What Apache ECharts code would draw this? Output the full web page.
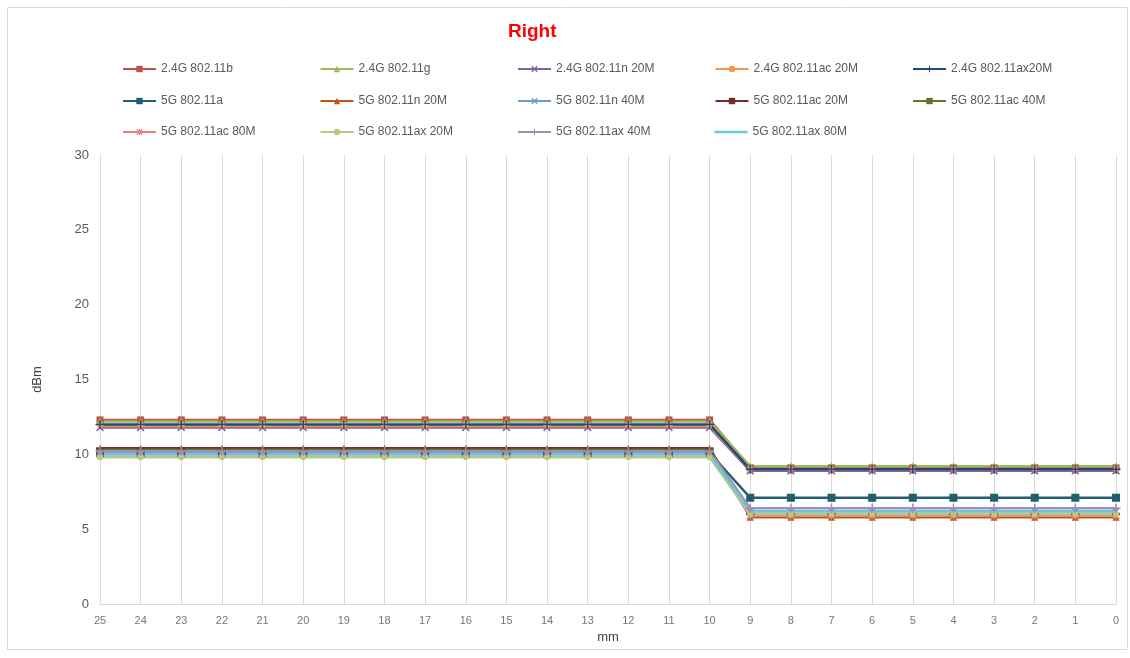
<!DOCTYPE html>
<html><head><meta charset="utf-8">
<script src="https://cdn.jsdelivr.net/npm/echarts@6/dist/echarts.min.js"></script>
<style>html,body{margin:0;padding:0;background:#fff}#c{width:1130px;height:658px}</style>
</head><body><div id="c"></div>
<script>
const categories = ['25','24','23','22','21','20','19','18','17','16','15','14','13','12','11','10','9','8','7','6','5','4','3','2','1','0'];
const yTicks = [0, 5, 10, 15, 20, 25, 30];
const seriesNames = ['2.4G 802.11b','2.4G 802.11g','2.4G 802.11n 20M','2.4G 802.11ac 20M','2.4G 802.11ax20M',
  '5G 802.11a','5G 802.11n 20M','5G 802.11n 40M','5G 802.11ac 20M','5G 802.11ac 40M',
  '5G 802.11ac 80M','5G 802.11ax 20M','5G 802.11ax 40M','5G 802.11ax 80M'];
const g24_11b   = [12.3,12.3,12.3,12.3,12.3,12.3,12.3,12.3,12.3,12.3,12.3,12.3,12.3,12.3,12.3,12.3,9.1,9.1,9.1,9.1,9.1,9.1,9.1,9.1,9.1,9.1];
const g24_11g   = [12.2,12.2,12.2,12.2,12.2,12.2,12.2,12.2,12.2,12.2,12.2,12.2,12.2,12.2,12.2,12.2,9.2,9.2,9.2,9.2,9.2,9.2,9.2,9.2,9.2,9.2];
const g24_11n20 = [11.8,11.8,11.8,11.8,11.8,11.8,11.8,11.8,11.8,11.8,11.8,11.8,11.8,11.8,11.8,11.8,8.9,8.9,8.9,8.9,8.9,8.9,8.9,8.9,8.9,8.9];
const g24_11ac20= [11.9,11.9,11.9,11.9,11.9,11.9,11.9,11.9,11.9,11.9,11.9,11.9,11.9,11.9,11.9,11.9,9.0,9.0,9.0,9.0,9.0,9.0,9.0,9.0,9.0,9.0];
const g24_ax20  = [12.0,12.0,12.0,12.0,12.0,12.0,12.0,12.0,12.0,12.0,12.0,12.0,12.0,12.0,12.0,12.0,9.0,9.0,9.0,9.0,9.0,9.0,9.0,9.0,9.0,9.0];
const g5_11a    = [10.1,10.1,10.1,10.1,10.1,10.1,10.1,10.1,10.1,10.1,10.1,10.1,10.1,10.1,10.1,10.1,7.1,7.1,7.1,7.1,7.1,7.1,7.1,7.1,7.1,7.1];
const g5_11n20  = [10.4,10.4,10.4,10.4,10.4,10.4,10.4,10.4,10.4,10.4,10.4,10.4,10.4,10.4,10.4,10.4,5.8,5.8,5.8,5.8,5.8,5.8,5.8,5.8,5.8,5.8];
const g5_11n40  = [10.1,10.1,10.1,10.1,10.1,10.1,10.1,10.1,10.1,10.1,10.1,10.1,10.1,10.1,10.1,10.1,6.2,6.2,6.2,6.2,6.2,6.2,6.2,6.2,6.2,6.2];
const g5_11ac20 = [10.4,10.4,10.4,10.4,10.4,10.4,10.4,10.4,10.4,10.4,10.4,10.4,10.4,10.4,10.4,10.4,6.0,6.0,6.0,6.0,6.0,6.0,6.0,6.0,6.0,6.0];
const g5_11ac40 = [10.3,10.3,10.3,10.3,10.3,10.3,10.3,10.3,10.3,10.3,10.3,10.3,10.3,10.3,10.3,10.3,6.0,6.0,6.0,6.0,6.0,6.0,6.0,6.0,6.0,6.0];
const g5_11ac80 = [10.0,10.0,10.0,10.0,10.0,10.0,10.0,10.0,10.0,10.0,10.0,10.0,10.0,10.0,10.0,10.0,5.9,5.9,5.9,5.9,5.9,5.9,5.9,5.9,5.9,5.9];
const g5_ax20   = [9.8,9.8,9.8,9.8,9.8,9.8,9.8,9.8,9.8,9.8,9.8,9.8,9.8,9.8,9.8,9.8,6.0,6.0,6.0,6.0,6.0,6.0,6.0,6.0,6.0,6.0];
const g5_ax40   = [10.2,10.2,10.2,10.2,10.2,10.2,10.2,10.2,10.2,10.2,10.2,10.2,10.2,10.2,10.2,10.2,6.4,6.4,6.4,6.4,6.4,6.4,6.4,6.4,6.4,6.4];
const g5_ax80   = [10.0,10.0,10.0,10.0,10.0,10.0,10.0,10.0,10.0,10.0,10.0,10.0,10.0,10.0,10.0,10.0,6.2,6.2,6.2,6.2,6.2,6.2,6.2,6.2,6.2,6.2];
const seriesValues = [g24_11b,g24_11g,g24_11n20,g24_11ac20,g24_ax20,g5_11a,g5_11n20,g5_11n40,g5_11ac20,g5_11ac40,g5_11ac80,g5_ax20,g5_ax40,g5_ax80];

const X = 'path://M0,1.5L1.5,0L5,3.5L8.5,0L10,1.5L6.5,5L10,8.5L8.5,10L5,6.5L1.5,10L0,8.5L3.5,5Z';
const PLUS = 'path://M4.2,0H5.8V4.2H10V5.8H5.8V10H4.2V5.8H0V4.2H4.2Z';
const STAR = 'path://M0,1.5L1.5,0L4.3,2.8V0H5.7V2.8L8.5,0L10,1.5L6.5,5L10,8.5L8.5,10L5.7,7.2V10H4.3V7.2L1.5,10L0,8.5L3.5,5Z';
const styles = [
  {c:'#C0504D', s:'rect', z:7},
  {c:'#9BBB59', s:'triangle', z:8},
  {c:'#8064A2', s:X, z:8},
  {c:'#F79646', s:'circle', z:5},
  {c:'#1F497D', s:PLUS, z:9},
  {c:'#215E6E', s:'rect', z:8},
  {c:'#C0590F', s:'triangle', z:7},
  {c:'#729ACA', s:X, z:8},
  {c:'#772C2A', s:'rect', z:[8,2]},
  {c:'#5F7530', s:'rect', z:[8,2]},
  {c:'#E6807D', s:STAR, z:8},
  {c:'#B3CC82', s:'circle', z:6},
  {c:'#A18EB5', s:PLUS, z:9},
  {c:'#6BC5DC', s:'none', z:0}
];

const series = seriesNames.map((n, i) => ({
  name: n, type: 'line', data: seriesValues[i],
  symbol: styles[i].s, symbolSize: styles[i].z, showSymbol: styles[i].s !== 'none',
  lineStyle: {color: styles[i].c, width: 2.5},
  itemStyle: {color: styles[i].c},
  emphasis: {disabled: true}, animation: false
}));

const colX = [122, 319.5, 517, 714.5, 912];
const rowY = [63, 95, 126];
const legends = [];
for (let i = 0; i < seriesNames.length; i++) {
  const r = Math.floor(i / 5), col = i % 5;
  const lg = {
    data: [seriesNames[i]], left: colX[col], top: rowY[r], padding: 0,
    itemWidth: 33, itemHeight: 8, selectedMode: false,
    textStyle: {fontFamily: 'Liberation Sans', fontSize: 12, color: '#595959'}
  };
  if (styles[i].s === 'none') {
    lg.icon = 'path://M0,0H33V2.5H0Z';
    lg.itemHeight = 2.5;
  }
  legends.push(lg);
}

const chart = echarts.init(document.getElementById('c'), null, {renderer: 'canvas'});
chart.setOption({
  backgroundColor: '#fff',
  animation: false,
  title: {text: 'Right', left: 508, top: 22, padding: 0,
    textStyle: {color: '#FF0000', fontSize: 19, fontWeight: 'bold', fontFamily: 'Liberation Sans'}},
  legend: legends,
  graphic: [{type: 'rect', shape: {x: 7.5, y: 7.5, width: 1120, height: 642},
    style: {fill: 'none', stroke: '#d9d9d9', lineWidth: 1}, silent: true}],
  grid: {left: 100, right: 14, top: 155, bottom: 54, containLabel: false},
  xAxis: {
    type: 'category', data: categories, boundaryGap: false,
    name: 'mm', nameLocation: 'middle', nameGap: 26,
    nameTextStyle: {fontFamily: 'Liberation Sans', fontSize: 13, color: '#404040'},
    axisLine: {lineStyle: {color: '#d9d9d9', width: 1}},
    axisTick: {show: false},
    axisLabel: {fontFamily: 'Liberation Sans', fontSize: 11, color: '#767676', margin: 11},
    splitLine: {show: true, lineStyle: {color: '#d9d9d9', width: 1}}
  },
  yAxis: {
    type: 'value', min: yTicks[0], max: yTicks[yTicks.length - 1], interval: 5,
    name: 'dBm', nameLocation: 'middle', nameGap: 56, nameRotate: 90,
    nameTextStyle: {fontFamily: 'Liberation Sans', fontSize: 13, color: '#404040'},
    axisLine: {show: true, lineStyle: {color: '#d9d9d9', width: 1}},
    axisTick: {show: false},
    axisLabel: {fontFamily: 'Liberation Sans', fontSize: 13, color: '#595959', margin: 11},
    splitLine: {show: false}
  },
  series: series
});
</script></body></html>
